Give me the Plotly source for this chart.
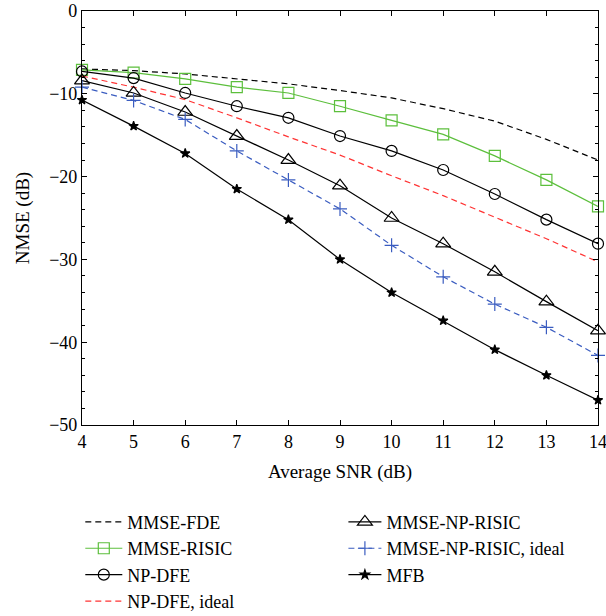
import plotly.graph_objects as go

snr = [4, 5, 6, 7, 8, 9, 10, 11, 12, 13, 14]

mmse_fde = [-7.0, -7.2, -7.6, -8.2, -8.8, -9.6, -10.5, -11.8, -13.3, -15.5, -18.0]
mmse_risic = [-7.1, -7.45, -8.2, -9.2, -9.9, -11.5, -13.2, -14.9, -17.5, -20.4, -23.6]
np_dfe = [-7.3, -8.1, -9.9, -11.5, -12.9, -15.1, -16.9, -19.2, -22.1, -25.2, -28.1]
np_dfe_ideal = [-7.85, -9.2, -10.7, -12.9, -15.2, -17.4, -19.9, -22.3, -24.9, -27.5, -30.3]
mmse_np_risic = [-8.4, -9.9, -12.2, -15.1, -18.0, -21.1, -25.0, -28.1, -31.5, -35.1, -38.6]
mmse_np_risic_ideal = [-9.2, -10.8, -13.1, -16.9, -20.4, -23.9, -28.3, -32.1, -35.4, -38.2, -41.6]
mfb = [-10.75, -13.9, -17.2, -21.5, -25.2, -30.0, -34.0, -37.4, -40.9, -44.0, -47.0]

x_ticks = [4, 5, 6, 7, 8, 9, 10, 11, 12, 13, 14]
y_ticks = [0, -10, -20, -30, -40, -50]
y_ticktext = ["0", "\u221210", "\u221220", "\u221230", "\u221240", "\u221250"]

FONT = "'Liberation Serif', 'DejaVu Serif', serif"
GREEN = "#5cbf3c"
RED = "#ff3333"
BLUE = "#3a5cc0"
DASH = "6px,4px"

fig = go.Figure()

def add(name, y, color, dash, symbol, msize, legend, mode="lines+markers"):
    marker = dict(symbol=symbol, size=msize, color=color,
                  line=dict(color=color, width=1.2))
    fig.add_trace(go.Scatter(
        x=snr, y=y, name=name, mode=mode, cliponaxis=False,
        line=dict(color=color, width=1.2, dash=dash),
        marker=marker, legend=legend))

add("MMSE-FDE", mmse_fde, "black", DASH, "circle", 1, "legend", mode="lines")
add("MMSE-RISIC", mmse_risic, GREEN, "solid", "square-open", 11, "legend")
add("NP-DFE", np_dfe, "black", "solid", "circle-open", 11, "legend")
add("NP-DFE, ideal", np_dfe_ideal, RED, DASH, "circle", 1, "legend", mode="lines")
add("MMSE-NP-RISIC", mmse_np_risic, "black", "solid", "triangle-up-open", 13, "legend2")
add("MMSE-NP-RISIC, ideal", mmse_np_risic_ideal, BLUE, DASH, "cross-thin-open", 10, "legend2")
add("MFB", mfb, "black", "solid", "star", 7, "legend2")

axis_common = dict(
    showline=True, linecolor="black", linewidth=1.2, mirror="ticks",
    ticks="inside", tickcolor="black", ticklen=5, tickwidth=1,
    showgrid=False, zeroline=False, automargin=False,
    ticklabeloverflow="allow",
    tickfont=dict(family=FONT, size=18, color="black"),
)

fig.update_xaxes(
    range=[4, 14], tickvals=x_ticks,
    title=dict(text="Average SNR (dB)", font=dict(family=FONT, size=19, color="black"), standoff=13),
    **axis_common)
fig.update_yaxes(
    range=[-50, 0], tickvals=y_ticks, ticktext=y_ticktext,
    minor=dict(ticks="inside", ticklen=3, tickcolor="black", dtick=2, showgrid=False),
    title=dict(text="NMSE (dB)", font=dict(family=FONT, size=19, color="black"), standoff=14),
    **axis_common)

legend_font = dict(family=FONT, size=18, color="black")
fig.update_layout(
    width=606, height=616,
    margin=dict(l=82, r=8, t=11, b=191, autoexpand=False),
    plot_bgcolor="white", paper_bgcolor="white",
    showlegend=True,
    legend=dict(x=-0.0033, y=-0.190, xanchor="left", yanchor="top",
                font=legend_font, bgcolor="rgba(0,0,0,0)", tracegroupgap=0,
                itemwidth=37),
    legend2=dict(x=0.5066, y=-0.190, xanchor="left", yanchor="top",
                 font=legend_font, bgcolor="rgba(0,0,0,0)", tracegroupgap=0,
                 itemwidth=33),
)

fig.write_html("out.html", config={"displayModeBar": False},
               post_script="document.body.style.margin='0';")
